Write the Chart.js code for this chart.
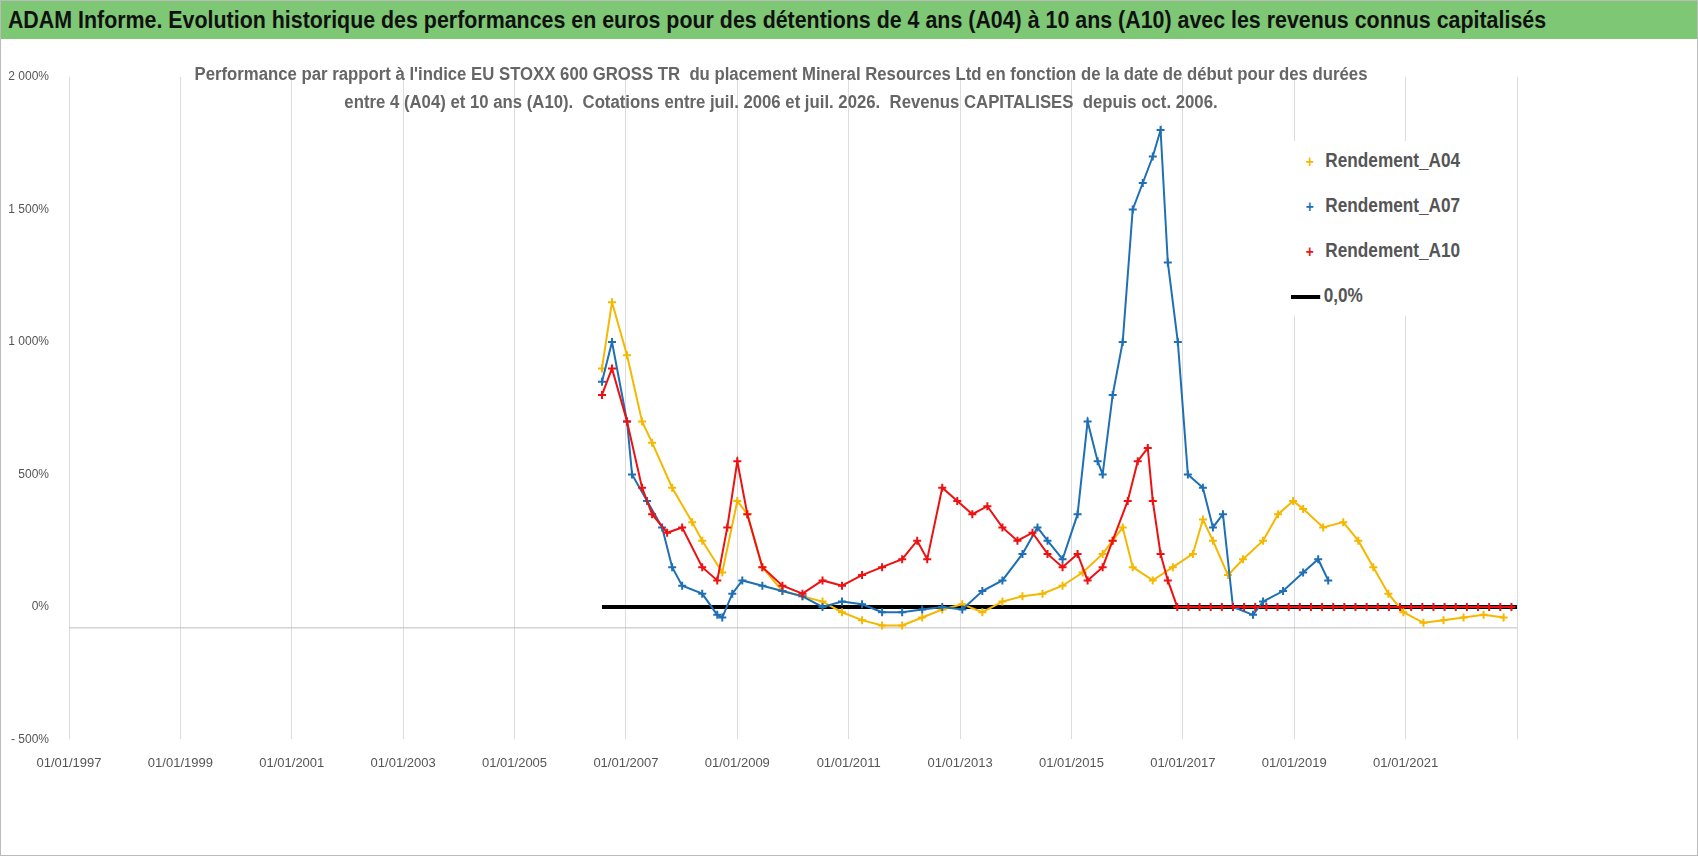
<!DOCTYPE html>
<html>
<head>
<meta charset="utf-8">
<script src="https://cdn.jsdelivr.net/npm/chart.js@4.4.1/dist/chart.umd.min.js"></script>
<style>
  body { margin: 0; background: #fff; font-family: "Liberation Sans", Arial, sans-serif; }
  #wrap { position: relative; width: 1698px; height: 856px; box-sizing: border-box; border: 1px solid #bbb; overflow: hidden; }
  #bar { position: absolute; left: 0; top: 0; width: 1698px; height: 38px; background: #7dc775; }
  #bartxt { position: absolute; left: 776px; top: 0; white-space: nowrap; color: #111; font-weight: bold; font-size: 23px;
            line-height: 38px; transform: translateX(-50%) scaleX(0.93); }
  #box { position: absolute; left: 0; top: 38px; width: 1698px; height: 818px; }
  .tl { position: absolute; left: 780px; white-space: nowrap; color: #666; font-weight: bold; font-size: 18px;
        transform: translateX(-50%) scaleX(0.93); }
  #legend { position: absolute; left: 1282px; top: 140px; width: 210px; height: 175px; background: #fff; }
  .it { position: absolute; left: 20px; font-size: 20px; font-weight: bold; color: #555; white-space: nowrap;
        transform: scaleX(0.86); transform-origin: left center; }
  .mk { display: inline-block; width: 16px; text-align: center; font-size: 16px; margin-right: 10px; }
</style>
</head>
<body>
<div id="wrap">
  <div id="bar"><div id="bartxt">ADAM Informe. Evolution historique des performances en euros pour des détentions de 4 ans (A04) à 10 ans (A10) avec les revenus connus capitalisés</div></div>
  <div id="box"><canvas id="c" width="1698" height="818"></canvas></div>
  <div class="tl" style="top:63px">Performance par rapport à l'indice EU STOXX 600 GROSS TR&nbsp; du placement Mineral Resources Ltd en fonction de la date de début pour des durées</div>
  <div class="tl" style="top:91px">entre 4 (A04) et 10 ans (A10).&nbsp; Cotations entre juil. 2006 et juil. 2026.&nbsp; Revenus CAPITALISES&nbsp; depuis oct. 2006.</div>
  <div id="legend">
    <div class="it" style="top:8px"><span class="mk" style="color:#f5b800">+</span>Rendement_A04</div>
    <div class="it" style="top:53px"><span class="mk" style="color:#1f6fb5">+</span>Rendement_A07</div>
    <div class="it" style="top:98px"><span class="mk" style="color:#ee1111">+</span>Rendement_A10</div>
    <div class="it" style="top:143px"><span style="display:inline-block;width:34px;height:4px;background:#000;vertical-align:middle;margin:0 4px 0 -14px"></span>0,0%</div>
  </div>
</div>
<script>
// dates as decimal years, values in %
const datesA04 = [2006.57,2006.75,2007.02,2007.29,2007.47,2007.83,2008.19,2008.37,2008.73,2009.0,2009.18,2009.45,2009.81,2010.17,2010.53,2010.88,2011.24,2011.6,2011.96,2012.32,2012.68,2013.04,2013.4,2013.76,2014.12,2014.48,2014.84,2015.2,2015.56,2015.74,2015.92,2016.1,2016.46,2016.82,2017.18,2017.36,2017.54,2017.81,2018.08,2018.44,2018.71,2018.98,2019.16,2019.52,2019.88,2020.15,2020.42,2020.69,2020.96,2021.32,2021.68,2022.04,2022.4,2022.76];
const valsA04  = [900,1150,950,700,620,450,320,250,130,400,350,150,60,40,20,-20,-50,-70,-70,-40,-10,10,-20,20,40,50,80,130,200,250,300,150,100,150,200,330,250,120,180,250,350,400,370,300,320,250,150,50,-20,-60,-50,-40,-30,-40];

const datesA07 = [2006.57,2006.75,2007.02,2007.11,2007.38,2007.65,2007.83,2008.01,2008.37,2008.64,2008.73,2008.91,2009.09,2009.45,2009.81,2010.17,2010.53,2010.88,2011.24,2011.6,2011.96,2012.32,2012.68,2013.04,2013.4,2013.76,2014.12,2014.39,2014.57,2014.84,2015.11,2015.29,2015.47,2015.56,2015.74,2015.92,2016.1,2016.28,2016.46,2016.6,2016.73,2016.91,2017.09,2017.36,2017.54,2017.72,2017.9,2018.26,2018.44,2018.8,2019.16,2019.43,2019.61];
const valsA07  = [850,1000,700,500,400,300,150,80,50,-30,-40,50,100,80,60,40,0,20,10,-20,-20,-10,0,-10,60,100,200,300,250,180,350,700,550,500,800,1000,1500,1600,1700,1800,1300,1000,500,450,300,350,0,-30,20,60,130,180,100];

const datesA10 = [2006.57,2006.75,2007.02,2007.29,2007.47,2007.74,2008.01,2008.37,2008.64,2008.82,2009.0,2009.18,2009.45,2009.81,2010.17,2010.53,2010.88,2011.24,2011.6,2011.96,2012.23,2012.41,2012.68,2012.95,2013.22,2013.49,2013.76,2014.03,2014.3,2014.57,2014.84,2015.11,2015.29,2015.56,2015.74,2016.01,2016.19,2016.37,2016.46,2016.6,2016.73,2016.9,2017.1,2017.3,2017.5,2017.7,2017.9,2018.1,2018.3,2018.5,2018.7,2018.9,2019.1,2019.3,2019.5,2019.7,2019.9,2020.1,2020.3,2020.5,2020.7,2020.9,2021.1,2021.3,2021.5,2021.7,2021.9,2022.1,2022.3,2022.5,2022.7,2022.9];
const valsA10  = [800,900,700,450,350,280,300,150,100,300,550,350,150,80,50,100,80,120,150,180,250,180,450,400,350,380,300,250,280,200,150,200,100,150,250,400,550,600,400,200,100,0,0,0,0,0,0,0,0,0,0,0,0,0,0,0,0,0,0,0,0,0,0,0,0,0,0,0,0,0,0,0];

const zeroDates = [2006.57, 2023.0];
const zeroVals = [0, 0];
const axisVals = [-79, -79];
const yTicks = [-500, 0, 500, 1000, 1500, 2000];
const yLabels = ["- 500%", "0%", "500%", "1 000%", "1 500%", "2 000%"];

const pts = (d, v) => d.map((x, i) => ({ x: x, y: v[i] }));
const series = (label, d, v, color, order) => ({
  label: label, data: pts(d, v), borderColor: color, backgroundColor: color, order: order,
  showLine: true, borderWidth: 2, pointStyle: 'cross', pointRadius: 4, pointBorderWidth: 2, tension: 0
});

new Chart(document.getElementById("c"), {
  type: "scatter",
  data: {
    datasets: [
      { label: "axis", order: 5, data: pts([1997, 2023], axisVals), showLine: true, borderColor: "#bdbdbd", borderWidth: 1, pointRadius: 0 },
      { label: "0,0%", order: 4, data: pts(zeroDates, zeroVals), showLine: true, borderColor: "#000", borderWidth: 4, pointRadius: 0 },
      series("Rendement_A04", datesA04, valsA04, "#f5b800", 3),
      series("Rendement_A07", datesA07, valsA07, "#1f6fb5", 2),
      series("Rendement_A10", datesA10, valsA10, "#ee1111", 1)
    ]
  },
  options: {
    responsive: false, animation: false,
    layout: { padding: { left: 0, right: 182, top: 38, bottom: 70 } },
    plugins: { legend: { display: false }, tooltip: { enabled: false } },
    scales: {
      x: {
        type: "linear", min: 1997, max: 2023,
        grid: { color: "#dcdcdc", drawTicks: false },
        border: { display: false },
        ticks: { stepSize: 2, padding: 16, color: "#555", font: { size: 13 },
                 maxRotation: 0, callback: v => v % 2 === 1 && v < 2023 ? "01/01/" + v : "" }
      },
      y: {
        min: -500, max: 2000, afterBuildTicks: a => { a.ticks = yTicks.map(v => ({ value: v })); },
        grid: { display: false }, border: { display: false },
        afterFit: a => { a.width = 68; },
        ticks: { color: "#555", padding: 12, font: { size: 12 },
                 callback: v => yLabels[yTicks.indexOf(v)] }
      }
    }
  }
});
</script>
</body>
</html>
